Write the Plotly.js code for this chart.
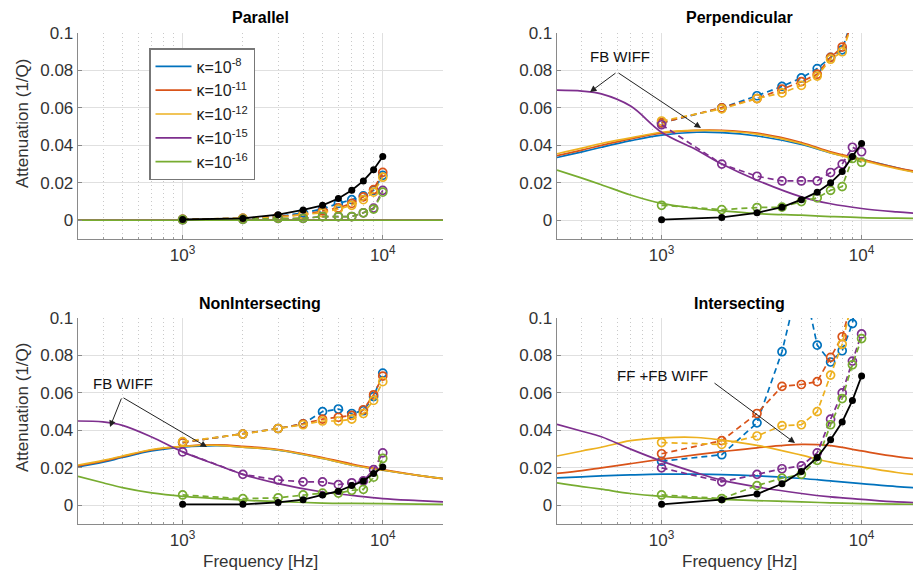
<!DOCTYPE html>
<html><head><meta charset="utf-8">
<script src="https://cdn.plot.ly/plotly-3.0.1.min.js"></script>
<style>html,body{margin:0;padding:0;background:#fff}#chart{width:913px;height:574px}</style>
</head><body><div id="chart"></div>
<script>
// ---------------- data ----------------
const FREQ_SIM = [1000,2000,3000,4000,5000,6000,7000,8000,9000,10000];
const FREQ_CURVE = [300,400,500,700,1000,1500,2000,3000,5000,7000,10000,15000,20000];
const KAPPA_LABELS = ["κ=10<sup>-8</sup>","κ=10<sup>-11</sup>","κ=10<sup>-12</sup>","κ=10<sup>-15</sup>","κ=10<sup>-16</sup>"];
const PANEL_TITLES = ["Parallel","Perpendicular","NonIntersecting","Intersecting"];
const Y_TICKS = [0,0.02,0.04,0.06,0.08,0.1];
const Y_TICK_TEXT = ["0","0.02","0.04","0.06","0.08","0.1"];
const X_TICKS = [1000,10000];
const X_TICK_TEXT = ["10<sup>3</sup>","10<sup>4</sup>"];
const X_MINOR = [400,500,600,700,800,900,2000,3000,4000,5000,6000,7000,8000,9000];

// Parallel
const parCurves = [
  [0,0,0,0,0,0,0,0,0,0,0,0,0],
  [0,0,0,0,0,0,0,0,0,0,0,0,0],
  [0,0,0,0,0,0,0,0,0,0,0,0,0],
  [0,0,0,0,0,0,0,0,0,0,0,0,0],
  [0,0,0,0,0,0,0,0,0,0,0,0,0]
];
const parSim = [
  [0.0005,0.001,0.002,0.004,0.006,0.009,0.011,0.013,0.016,0.024],
  [0.0005,0.001,0.002,0.003,0.005,0.0066,0.009,0.0125,0.0164,0.0256],
  [0.0005,0.001,0.0015,0.003,0.004,0.006,0.008,0.011,0.015,0.023],
  [0.0003,0.0005,0.001,0.001,0.002,0.002,0.002,0.004,0.0065,0.016],
  [0.0003,0.0005,0.001,0.001,0.002,0.002,0.002,0.004,0.006,0.015]
];
const parRef = [0.0004,0.001,0.003,0.0055,0.008,0.0116,0.016,0.021,0.027,0.034];

// Perpendicular
const perpCurves = [
  [0.0335,0.0365,0.039,0.0425,0.0455,0.047,0.0468,0.045,0.0405,0.036,0.0325,0.028,0.025],
  [0.0345,0.0375,0.040,0.0435,0.0465,0.048,0.048,0.0465,0.0415,0.0365,0.0325,0.028,0.0255],
  [0.0355,0.0385,0.041,0.044,0.047,0.048,0.0478,0.046,0.041,0.036,0.032,0.0275,0.025],
  [0.0695,0.069,0.0675,0.061,0.047,0.0375,0.030,0.0214,0.0125,0.0088,0.0063,0.0045,0.0035],
  [0.0268,0.0225,0.019,0.0135,0.009,0.0063,0.005,0.0036,0.0027,0.002,0.0014,0.0011,0.001]
];
const perpSim = [
  [0.052,0.060,0.0665,0.0715,0.076,0.081,0.087,0.091,0.108,0.125],
  [0.052,0.060,0.065,0.070,0.074,0.078,0.087,0.0925,0.105,0.12],
  [0.053,0.0595,0.065,0.068,0.072,0.077,0.086,0.090,0.105,0.12],
  [0.051,0.030,0.0235,0.021,0.021,0.021,0.0255,0.030,0.039,0.0366],
  [0.008,0.0057,0.0068,0.007,0.010,0.012,0.016,0.018,0.033,0.031]
];
const perpRef = [0.0003,0.0015,0.004,0.007,0.011,0.015,0.020,0.026,0.034,0.041];

// NonIntersecting
const nonCurves = [
  [0.0205,0.023,0.0255,0.029,0.031,0.0318,0.031,0.0294,0.025,0.0215,0.0187,0.016,0.0142],
  [0.021,0.0235,0.026,0.0295,0.0315,0.0322,0.0315,0.0298,0.0255,0.022,0.019,0.016,0.0142],
  [0.0215,0.024,0.0263,0.0298,0.0315,0.032,0.031,0.0295,0.025,0.0215,0.0187,0.016,0.0142],
  [0.045,0.0445,0.0427,0.0365,0.0285,0.0214,0.0165,0.0116,0.0071,0.0053,0.0036,0.0025,0.0018],
  [0.0155,0.012,0.0094,0.0066,0.0048,0.0036,0.0027,0.002,0.0012,0.001,0.0009,0.0006,0.0005]
];
const nonSim = [
  [0.0335,0.038,0.041,0.0435,0.050,0.0514,0.049,0.0505,0.058,0.0706],
  [0.0335,0.038,0.041,0.0435,0.046,0.047,0.048,0.051,0.059,0.069],
  [0.034,0.038,0.041,0.043,0.045,0.045,0.046,0.049,0.056,0.066],
  [0.0285,0.0165,0.0135,0.0125,0.0125,0.011,0.012,0.013,0.019,0.028],
  [0.0055,0.0035,0.004,0.0055,0.0065,0.0065,0.008,0.0085,0.015,0.025]
];
const nonRef = [0.0005,0.0005,0.0015,0.003,0.0055,0.0075,0.0105,0.013,0.017,0.0205];

// Intersecting
const intCurves = [
  [0.0146,0.0152,0.0157,0.0162,0.0166,0.0166,0.0164,0.0157,0.0143,0.013,0.0116,0.010,0.0092],
  [0.017,0.0185,0.020,0.0222,0.0246,0.027,0.0286,0.0307,0.0325,0.0318,0.029,0.026,0.0245],
  [0.0263,0.029,0.031,0.0345,0.036,0.0362,0.0348,0.032,0.0268,0.023,0.0205,0.0175,0.016],
  [0.0432,0.0395,0.0366,0.030,0.0236,0.0173,0.0134,0.0098,0.0063,0.0045,0.0032,0.0018,0.0013],
  [0.012,0.010,0.0086,0.0063,0.0048,0.0038,0.0032,0.0025,0.0018,0.0013,0.0009,0.0006,0.0005]
];
const intSim = [
  [0.0235,0.027,0.044,0.082,0.125,0.0855,0.0765,0.0825,0.097,0.13],
  [0.0275,0.0345,0.049,0.0635,0.0645,0.066,0.079,0.090,0.110,0.13],
  [0.0335,0.0325,0.037,0.0425,0.043,0.050,0.0695,0.086,0.110,0.13],
  [0.020,0.0125,0.0165,0.0195,0.021,0.028,0.046,0.060,0.077,0.0915],
  [0.0055,0.0036,0.0105,0.0145,0.0165,0.024,0.043,0.057,0.075,0.089]
];
const intRef = [0.0005,0.003,0.006,0.0115,0.018,0.0255,0.035,0.0445,0.056,0.069];

// ---------------- styling / build ----------------
const COLORS = ["#0072BD","#D95319","#EDB120","#7E2F8E","#77AC30"];
const FONT = "Liberation Sans, Arial, Helvetica, sans-serif";
const panels = [
  {curves: parCurves, sim: parSim, ref: parRef, xa: 'x', ya: 'y'},
  {curves: perpCurves, sim: perpSim, ref: perpRef, xa: 'x2', ya: 'y2'},
  {curves: nonCurves, sim: nonSim, ref: nonRef, xa: 'x3', ya: 'y3'},
  {curves: intCurves, sim: intSim, ref: intRef, xa: 'x4', ya: 'y4'}
];
const traces = [];
panels.forEach((p, pi) => {
  for (let k = 0; k < 5; k++) {
    traces.push({
      x: FREQ_CURVE, y: p.curves[k], xaxis: p.xa, yaxis: p.ya,
      type: 'scatter', mode: 'lines', name: KAPPA_LABELS[k],
      line: {color: COLORS[k], width: 1.7, shape: 'spline', smoothing: 1},
      showlegend: pi === 0, hoverinfo: 'skip'
    });
    traces.push({
      x: FREQ_SIM, y: p.sim[k], xaxis: p.xa, yaxis: p.ya,
      type: 'scatter', mode: 'lines+markers', showlegend: false,
      line: {color: COLORS[k], width: 1.7, dash: '6px,4px'},
      marker: {symbol: 'circle-open', size: 8, color: COLORS[k], line: {width: 1.7, color: COLORS[k]}},
      hoverinfo: 'skip'
    });
  }
  traces.push({
    x: FREQ_SIM, y: p.ref, xaxis: p.xa, yaxis: p.ya,
    type: 'scatter', mode: 'lines+markers', showlegend: false,
    line: {color: '#000', width: 1.8},
    marker: {symbol: 'circle', size: 7, color: '#000'},
    hoverinfo: 'skip'
  });
});

const W = 913, H = 574;
const L0 = Math.log10(300);
function xAxis(domain, rightLog) {
  return {
    type: 'log', domain: domain, range: [L0, rightLog],
    tickmode: 'array', tickvals: X_TICKS, ticktext: X_TICK_TEXT,
    showgrid: true, gridcolor: '#e0e0e0', gridwidth: 1,
    minor: {tickmode: 'array', tickvals: X_MINOR, showgrid: true, gridcolor: '#c9c9c9', griddash: '1px,3px', gridwidth: 1, ticks: 'inside', ticklen: 2, tickcolor: '#999'},
    showline: true, linecolor: '#8a8a8a', linewidth: 1.3,
    ticks: 'inside', ticklen: 4, tickcolor: '#8a8a8a',
    tickfont: {family: FONT, size: 17, color: '#333'},
    zeroline: false, fixedrange: true
  };
}
function yAxis(domain, anchor) {
  return {
    domain: domain, range: [-0.01, 0.1], anchor: anchor,
    tickmode: 'array', tickvals: Y_TICKS, ticktext: Y_TICK_TEXT,
    showgrid: true, gridcolor: '#e0e0e0', gridwidth: 1,
    showline: true, linecolor: '#8a8a8a', linewidth: 1.3,
    ticks: 'inside', ticklen: 4, tickcolor: '#8a8a8a',
    tickfont: {family: FONT, size: 17, color: '#333'},
    zeroline: false, fixedrange: true
  };
}
const dxL = [78/W, 443/W], dxR = [557/W, 1];
const dyT = [1-239/H, 1-33/H], dyB = [1-524/H, 1-318/H];
const rightLogR = L0 + (913-557)/200;

const xa1 = xAxis(dxL, Math.log10(20000)); xa1.anchor = 'y';
const xa2 = xAxis(dxR, rightLogR); xa2.anchor = 'y2';
const xa3 = xAxis(dxL, Math.log10(20000)); xa3.anchor = 'y3';
const xa4 = xAxis(dxR, rightLogR); xa4.anchor = 'y4';

function px(x){return x/W;} function py(y){return 1-y/H;}
const annotations = [];
const titlePos = [[260,18],[739,18],[260,303],[739,303]];
PANEL_TITLES.forEach((t,i) => annotations.push({
  text: '<b>'+t+'</b>', xref:'paper', yref:'paper', x:px(titlePos[i][0]), y:py(titlePos[i][1]),
  xanchor:'center', yanchor:'middle', showarrow:false, font:{family:FONT,size:16,color:'#000'}
}));
[[22,124],[22,408]].forEach(p => annotations.push({
  text:'Attenuation (1/Q)', xref:'paper', yref:'paper', x:px(p[0]), y:py(p[1]), textangle:-90,
  xanchor:'center', yanchor:'middle', showarrow:false, font:{family:FONT,size:17,color:'#333'}
}));
[[260,561],[739,561]].forEach(p => annotations.push({
  text:'Frequency [Hz]', xref:'paper', yref:'paper', x:px(p[0]), y:py(p[1]),
  xanchor:'center', yanchor:'middle', showarrow:false, font:{family:FONT,size:17,color:'#333'}
}));
// callout labels
[['FB WIFF',620,57],['FB WIFF',123,383],['FF +FB WIFF',662,375]].forEach(a => annotations.push({
  text:a[0], xref:'paper', yref:'paper', x:px(a[1]), y:py(a[2]), xanchor:'center', yanchor:'middle',
  showarrow:false, font:{family:FONT,size:15,color:'#111'}
}));
// arrows: [tailX, tailY, headX, headY]
[[617,72,590,92],[617,72,701,128],[122,397,110,427],[122,397,207,447],[713,382,795,443]].forEach(a => annotations.push({
  text:'', xref:'paper', yref:'paper', x:px(a[2]), y:py(a[3]), ax:a[0]-a[2], ay:a[1]-a[3],
  showarrow:true, arrowhead:2, arrowsize:1.3, arrowwidth:1, arrowcolor:'#222', standoff:0, startstandoff:0
}));

const layout = {
  width: W, height: H, margin: {l:0, r:0, t:0, b:0},
  paper_bgcolor: '#fff', plot_bgcolor: '#fff',
  font: {family: FONT, color: '#333'},
  showlegend: true,
  legend: {x: px(149), y: py(48), xanchor: 'left', yanchor: 'top', bgcolor: '#fff',
    bordercolor: '#777', borderwidth: 1.5, font: {family: FONT, size: 16, color: '#222'},
    tracegroupgap: 0, itemwidth: 36},
  xaxis: xa1, yaxis: yAxis(dyT, 'x'),
  xaxis2: xa2, yaxis2: yAxis(dyT, 'x2'),
  xaxis3: xa3, yaxis3: yAxis(dyB, 'x3'),
  xaxis4: xa4, yaxis4: yAxis(dyB, 'x4'),
  annotations: annotations
};
Plotly.newPlot('chart', traces, layout, {staticPlot: true, displayModeBar: false});
</script></body></html>
